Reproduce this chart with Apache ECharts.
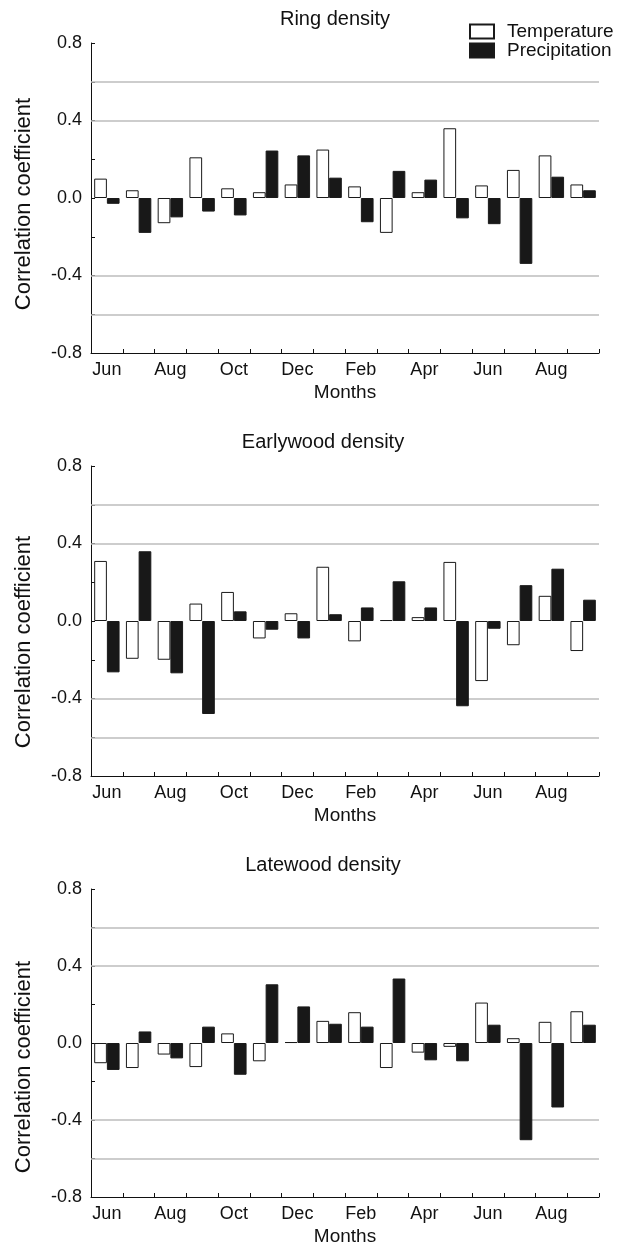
<!DOCTYPE html>
<html>
<head>
<meta charset="utf-8">
<script src="https://cdn.jsdelivr.net/npm/echarts@6/dist/echarts.min.js"></script>
<style>
html,body{margin:0;padding:0;background:#fff;}
#chart{width:635px;height:1247px;}
</style>
</head>
<body>
<div id="chart"></div>
<script>
const months = ['Jun','Jul','Aug','Sep','Oct','Nov','Dec','Jan','Feb','Mar','Apr','May','Jun','Jul','Aug','Sep'];
const panelTitles = ['Ring density','Earlywood density','Latewood density'];
const ringTemp  = [0.10,0.04,-0.13,0.21,0.05,0.03,0.07,0.25,0.06,-0.18,0.03,0.36,0.065,0.145,0.22,0.07];
const ringPrec  = [-0.03,-0.18,-0.10,-0.07,-0.09,0.245,0.22,0.105,-0.125,0.14,0.095,-0.105,-0.135,-0.34,0.11,0.04];
const earlyTemp = [0.31,-0.195,-0.20,0.09,0.15,-0.09,0.04,0.28,-0.105,0.005,0.02,0.305,-0.31,-0.125,0.13,-0.155];
const earlyPrec = [-0.265,0.36,-0.27,-0.48,0.05,-0.045,-0.09,0.035,0.07,0.205,0.07,-0.44,-0.04,0.185,0.27,0.11];
const lateTemp  = [-0.105,-0.13,-0.06,-0.125,0.05,-0.095,0.005,0.115,0.16,-0.13,-0.05,-0.02,0.21,0.025,0.11,0.165];
const latePrec  = [-0.14,0.06,-0.08,0.085,-0.165,0.305,0.19,0.10,0.085,0.335,-0.09,-0.095,0.095,-0.505,-0.335,0.095];
const gridLevels = [0.6, 0.4, -0.4, -0.6];
const yMin = -0.8, yMax = 0.8, yStep = 0.2;

const tempData = [ringTemp, earlyTemp, lateTemp];
const precData = [ringPrec, earlyPrec, latePrec];

const FONT = "'Liberation Sans', Arial, Helvetica, sans-serif";
const gridTops = [43, 466, 889];
const titleY = [19, 442, 865];
const titleX = [335, 323, 323];
const nameShift = [12, 42, 48];
const plotLeft = 91, plotWidth = 508, plotHeight = 310;

const grids = [], xAxes = [], yAxes = [], series = [], graphics = [];
for (let i = 0; i < 3; i++) {
  grids.push({left: plotLeft, top: gridTops[i], width: plotWidth, height: plotHeight, containLabel: false});
  xAxes.push({
    type: 'category', gridIndex: i, data: months,
    boundaryGap: true,
    name: 'Months', nameLocation: 'middle', nameGap: 30,
    nameTextStyle: {fontFamily: FONT, fontSize: 19, color: '#111'},
    axisLine: {show: true, onZero: false, lineStyle: {color: '#111', width: 1}},
    axisTick: {show: true, inside: true, length: 4, interval: 0, alignWithLabel: false, lineStyle: {color: '#111'}},
    axisLabel: {interval: 1, fontFamily: FONT, fontSize: 18, color: '#111', margin: 8},
    splitLine: {show: false}
  });
  yAxes.push({
    type: 'value', gridIndex: i, min: yMin, max: yMax, interval: yStep,
    name: 'Correlation coefficient', nameLocation: 'middle', nameGap: 56,
    nameTextStyle: {fontFamily: FONT, fontSize: 22, color: '#111', padding: [0, nameShift[i], 0, 0]},
    axisLine: {show: true, lineStyle: {color: '#111', width: 1}},
    axisTick: {show: true, inside: true, length: 4, lineStyle: {color: '#111'}},
    axisLabel: {
      fontFamily: FONT, fontSize: 18, color: '#111', margin: 9,
      formatter: function (v) {
        const k = Math.round(v * 10);
        return (k % 4 === 0) ? (k / 10).toFixed(1) : '';
      }
    },
    splitLine: {show: false}
  });
  series.push({
    name: 'Temperature', type: 'bar', xAxisIndex: i, yAxisIndex: i,
    data: tempData[i],
    barGap: '0%', barCategoryGap: '20%',
    itemStyle: {color: '#ffffff', borderColor: '#1a1a1a', borderWidth: 1},
    emphasis: {disabled: true},
    markLine: {
      silent: true, symbol: ['none', 'none'], z: 1,
      label: {show: false},
      lineStyle: {color: '#bdbdbd', width: 1.5, type: 'solid'},
      data: gridLevels.map(v => ({yAxis: v}))
    }
  });
  series.push({
    name: 'Precipitation', type: 'bar', xAxisIndex: i, yAxisIndex: i,
    data: precData[i],
    barGap: '0%', barCategoryGap: '20%',
    itemStyle: {color: '#181818', borderColor: '#1a1a1a', borderWidth: 1},
    emphasis: {disabled: true}
  });
  graphics.push({
    type: 'text', x: titleX[i], y: titleY[i],
    style: {text: panelTitles[i], font: '20px ' + FONT, fill: '#111', align: 'center', verticalAlign: 'middle'}
  });
}

const chart = echarts.init(document.getElementById('chart'), null, {renderer: 'canvas'});
chart.setOption({
  backgroundColor: '#fff',
  animation: false,
  grid: grids,
  xAxis: xAxes,
  yAxis: yAxes,
  series: series,
  legend: {
    show: true, orient: 'vertical', left: 469, top: 22, padding: 0,
    itemWidth: 24, itemHeight: 14, itemGap: 0,
    icon: 'rect',
    data: ['Temperature', 'Precipitation'],
    selectedMode: false,
    textStyle: {fontFamily: FONT, fontSize: 19, color: '#111', padding: [0, 0, 0, 8], lineHeight: 16}
  },
  graphic: graphics
});
</script>
</body>
</html>
